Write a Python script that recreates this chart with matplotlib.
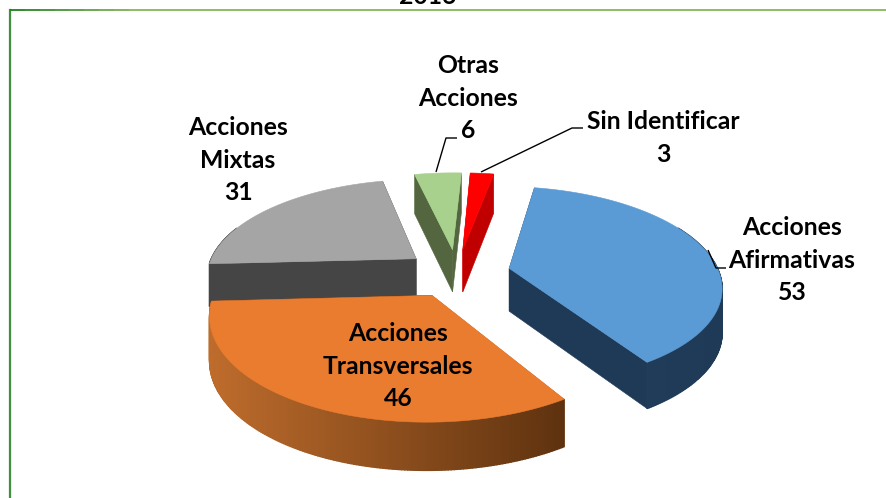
import numpy as np
import matplotlib
matplotlib.use("Agg")
import matplotlib.pyplot as plt
from matplotlib.patches import Polygon
from matplotlib.colors import to_rgb

categories = ["Acciones\nAfirmativas", "Acciones\nTransversales", "Acciones\nMixtas", "Otras\nAcciones", "Sin Identificar"]
values = [53, 46, 31, 6, 3]
title_text = "2016"

top_colors = ["#5B9BD5", "#EA7C30", "#A5A5A5", "#A9D18E", "#FF0000"]
wall_left = ["#243F5B", "#BE6C2C", "#454545", "#53663F", "#F00000"]
wall_right = ["#1F3A56", "#5E320F", "#454545", "#53663F", "#C00000"]
explode = [0.255, 0.25, 0.25, 0.25, 0.25]
label_xy = [(792, 260), (398, 366), (238, 160), (468, 98), (663, 138)]

CX, CY, RX, RY, K, DEPTH = 457, 273, 210, 97, 0.168, 43
START = 10.5

fig = plt.figure(figsize=(8.86, 4.98), dpi=100, facecolor="white")
ax = fig.add_axes([0, 0, 1, 1])
ax.set_xlim(0, 886)
ax.set_ylim(498, 0)
ax.axis("off")


def project(x, y, down=False):
    w = 1 + K * y
    sx = CX + RX * x / w
    sy = CY - RY * y / w
    if down:
        sy = sy + DEPTH / np.sqrt(w)
    return np.column_stack([sx, sy])


def quad(xs, ys):
    return np.vstack([project(xs, ys), project(xs[::-1], ys[::-1], True)])


def mix(a, b, t):
    a, b = np.array(to_rgb(a)), np.array(to_rgb(b))
    return tuple(a + (b - a) * t)


total = sum(values)
spans = np.array(values) / total * 360
starts = START + np.concatenate([[0], np.cumsum(spans)[:-1]])
order = [2, 3, 4, 0, 1]

for z, i in enumerate(order):
    a0, a1 = np.radians(starts[i]), np.radians(starts[i] + spans[i])
    mid = (a0 + a1) / 2
    ex, ey = explode[i] * np.sin(mid), explode[i] * np.cos(mid)
    th = np.linspace(a0, a1, max(int(spans[i] * 1.5), 8))
    ox, oy = ex + np.sin(th), ey + np.cos(th)
    walls = [(np.array([ex, ox[0]]), np.array([ey, oy[0]]), wall_left[i]),
             (np.array([ex, ox[-1]]), np.array([ey, oy[-1]]), wall_right[i])]
    walls.sort(key=lambda q: -q[1].mean())
    base = z * 10 + 1
    for j, (xs, ys, c) in enumerate(walls):
        ax.add_patch(Polygon(quad(xs, ys), closed=True, fc=c, ec=c, lw=0.4, zorder=base + j))
    scr = project(ox, oy)
    lo, hi = scr[:, 0].min(), scr[:, 0].max()
    for k in range(len(th) - 1):
        xs, ys = ox[k:k + 2], oy[k:k + 2]
        if ys.mean() > 0.5:
            continue
        t = (scr[k:k + 2, 0].mean() - lo) / max(hi - lo, 1)
        c = mix(wall_left[i], wall_right[i], t)
        ax.add_patch(Polygon(quad(xs, ys), closed=True, fc=c, ec=c, lw=1.0, zorder=base + 3))
    top = np.vstack([project(np.array([ex]), np.array([ey])), scr])
    ax.add_patch(Polygon(top, closed=True, fc=top_colors[i], ec=top_colors[i], lw=0.4, zorder=base + 5))

for (x, y), cat, val in zip(label_xy, categories, values):
    ax.text(x, y, f"{cat}\n{val}", ha="center", va="center", family="Lato", weight="bold",
            fontsize=17.8, linespacing=1.5, color="black", zorder=100)

# leader lines
for path in ([(436, 172), (446, 138), (457, 138)],
             [(481, 172), (572, 128), (583, 128)],
             [(708, 250), (716, 268), (726, 268)]):
    p = np.array(path)
    ax.plot(p[:, 0], p[:, 1], color="black", lw=1.0, zorder=90, solid_capstyle="butt")

# frame: left and top rules only, the rest is cropped away
ax.plot([10, 10], [10, 498], color="#3F8F3F", lw=1.6, zorder=95)
edge = np.linspace(10, 886, 60)
for k in range(len(edge) - 1):
    t = min(k / 8, 1)
    ax.plot(edge[k:k + 2], [10, 10], color=mix("#1F7F1F", "#86B558", t), lw=1.3, zorder=95,
            solid_capstyle="butt")

ax.text(428, 4, title_text, ha="center", va="baseline", family="Lato", weight="bold",
        fontsize=17.8, color="black", clip_on=False)

fig.savefig("out.png", dpi=100)
